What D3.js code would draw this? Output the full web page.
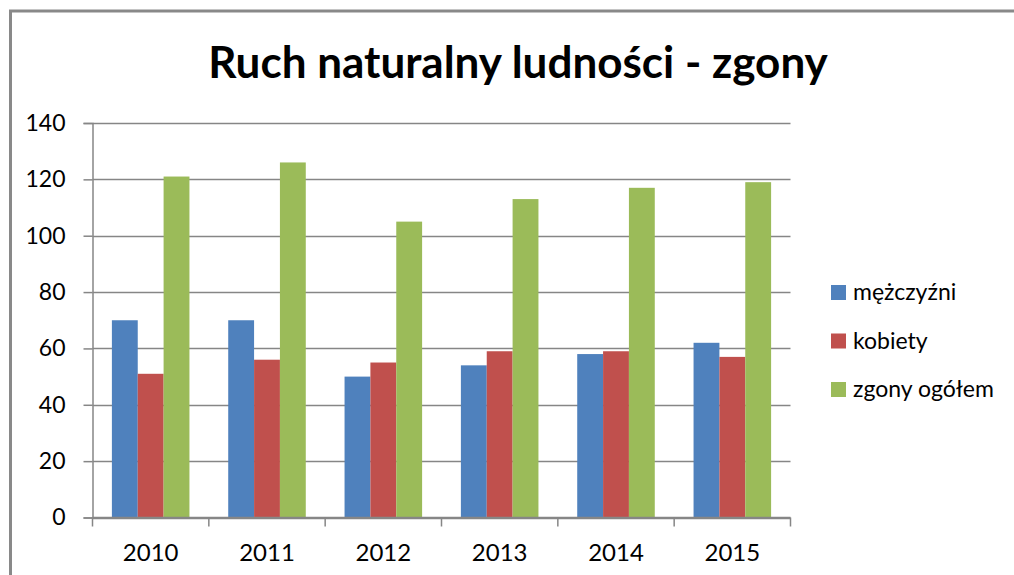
<!DOCTYPE html>
<html>
<head>
<meta charset="utf-8">
<script src="https://cdn.jsdelivr.net/npm/d3@7"></script>
<style>
    html, body { margin: 0; padding: 0; background: #fff; }
    svg { display: block; font-family: Lato, "Noto Sans", sans-serif; }
</style>
</head>
<body>
<svg id="chart" width="1014" height="575"></svg>
<script>
const years = ["2010", "2011", "2012", "2013", "2014", "2015"],
    seriesNames = ["mężczyźni", "kobiety", "zgony ogółem"],
    men = [70, 70, 50, 54, 58, 62],
    women = [51, 56, 55, 59, 59, 57],
    total = [121, 126, 105, 113, 117, 119],
    yTicks = [0, 20, 40, 60, 80, 100, 120, 140],
    colors = ["#4F81BD", "#C0504D", "#9BBB59"];

const seriesValues = [men, women, total];
const rows = years.map((year, i) => ({
    year: year,
    values: seriesNames.map((name, s) => ({ name: name, value: seriesValues[s][i], color: colors[s] }))
}));

const svg = d3.select("#chart");
const plotLeft = 92.5, plotRight = 790.5, plotTop = 123, plotBottom = 517.5;

// frame of the chart area (only top and left edges show in the picture)
svg.append("path")
    .attr("d", "M10.5,575 V11 H1014")
    .attr("fill", "none")
    .attr("stroke", "#898989")
    .attr("stroke-width", 3);

const title = svg.append("text")
    .attr("x", 518)
    .attr("y", 78)
    .attr("text-anchor", "middle")
    .attr("font-weight", "bold")
    .attr("font-size", 42)
    .attr("fill", "#000")
    .text("Ruch naturalny ludności - zgony");
// fit title width to the reference (~620px)
const tw = title.node().getComputedTextLength();
title.attr("font-size", 42 * 620 / tw);

const x0 = d3.scaleBand().domain(years).range([plotLeft, plotRight]).padding(0);
const gap = x0.bandwidth() * 1.5 / 4.5;
const x1 = d3.scaleBand().domain(seriesNames).range([gap / 2, x0.bandwidth() - gap / 2]).padding(0);
const y = d3.scaleLinear().domain([0, 140]).range([plotBottom, plotTop]);

// gridlines
svg.append("g")
    .selectAll("line")
    .data(yTicks)
    .enter().append("line")
    .attr("x1", plotLeft)
    .attr("x2", plotRight)
    .attr("y1", d => Math.round(y(d)) + 0.5)
    .attr("y2", d => Math.round(y(d)) + 0.5)
    .attr("stroke", "#868686")
    .attr("stroke-width", 1.5);

// bars
svg.append("g")
    .selectAll("g")
    .data(rows)
    .enter().append("g")
    .attr("transform", d => "translate(" + x0(d.year) + ",0)")
    .selectAll("rect")
    .data(d => d.values)
    .enter().append("rect")
    .attr("x", d => x1(d.name))
    .attr("width", x1.bandwidth())
    .attr("y", d => y(d.value))
    .attr("height", d => y(0) - y(d.value))
    .attr("fill", d => d.color);

// y axis
const yAxis = svg.append("g")
    .attr("transform", "translate(" + plotLeft + ",0)")
    .call(d3.axisLeft(y).tickValues(yTicks).tickSize(9).tickPadding(18));
yAxis.select(".domain").attr("stroke", "#868686").attr("stroke-width", 1.5);
yAxis.selectAll(".tick line").attr("stroke", "#868686").attr("stroke-width", 1.5);
yAxis.selectAll(".tick text")
    .attr("font-family", "Lato, 'Noto Sans', sans-serif")
    .attr("font-size", 23)
    .attr("fill", "#000");

// x axis with ticks at category boundaries
const xAxis = svg.append("g")
    .attr("transform", "translate(0," + plotBottom + ")");
xAxis.append("line")
    .attr("x1", plotLeft).attr("x2", plotRight)
    .attr("stroke", "#868686").attr("stroke-width", 1.5);
xAxis.selectAll(".bound")
    .data(years.concat(["end"]))
    .enter().append("line")
    .attr("class", "bound")
    .attr("x1", (d, i) => i < years.length ? x0(d) : plotRight)
    .attr("x2", (d, i) => i < years.length ? x0(d) : plotRight)
    .attr("y1", 0).attr("y2", 9)
    .attr("stroke", "#868686").attr("stroke-width", 1.5);
xAxis.selectAll(".label")
    .data(years)
    .enter().append("text")
    .attr("class", "label")
    .attr("x", d => x0(d) + x0.bandwidth() / 2)
    .attr("y", 43)
    .attr("text-anchor", "middle")
    .attr("font-size", 24)
    .attr("fill", "#000")
    .text(d => d);

// legend
const legend = svg.append("g")
    .selectAll("g")
    .data(seriesNames)
    .enter().append("g")
    .attr("transform", (d, i) => "translate(831," + (285 + i * 48.5) + ")");
legend.append("rect")
    .attr("width", 15)
    .attr("height", 15)
    .attr("fill", (d, i) => colors[i]);
legend.append("text")
    .attr("x", 22)
    .attr("y", 15)
    .attr("font-size", 23)
    .attr("fill", "#000")
    .text(d => d);
</script>
</body>
</html>
